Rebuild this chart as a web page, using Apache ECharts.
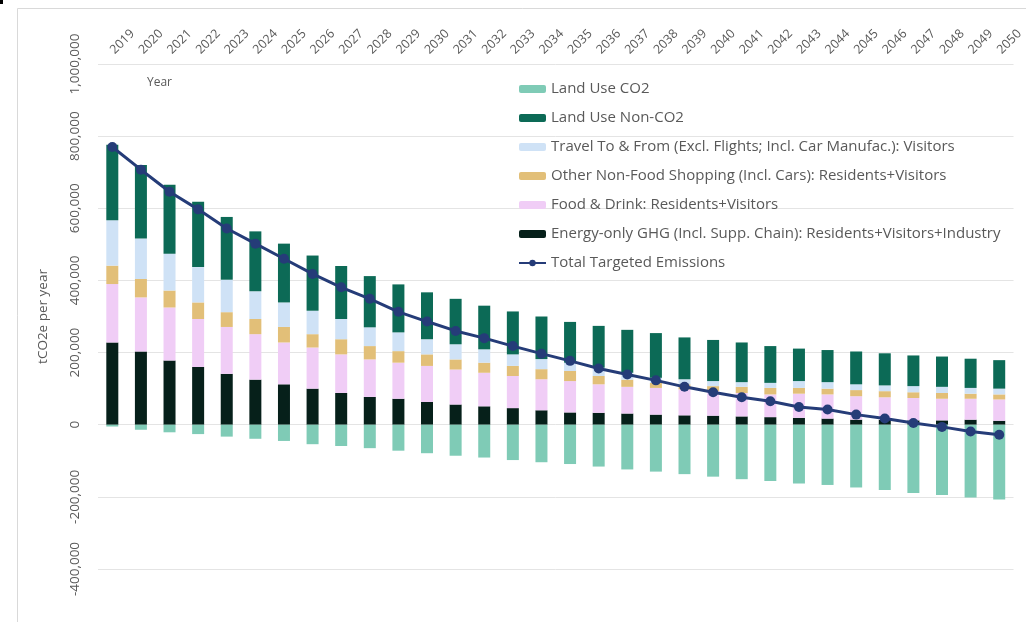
<!DOCTYPE html>
<html>
<head>
<meta charset="utf-8">
<script src="https://cdn.jsdelivr.net/npm/echarts@6/dist/echarts.min.js"></script>
<style>
  html, body { margin: 0; padding: 0; background: #ffffff; }
  #chart { width: 1026px; height: 622px; }
</style>
</head>
<body>
<div id="chart"></div>
<script>
const years = ['2019','2020','2021','2022','2023','2024','2025','2026','2027','2028','2029','2030','2031','2032','2033','2034','2035','2036','2037','2038','2039','2040','2041','2042','2043','2044','2045','2046','2047','2048','2049','2050'];

const energyGHG = [228000,203000,178000,160000,141000,125000,112000,100000,88000,77000,72000,63000,56000,51000,46000,40000,34000,33000,31000,28000,26000,25000,23000,21000,19000,17000,14000,14000,12000,12000,14000,11000];
const foodDrink = [162000,150000,147000,133000,130000,126000,116000,114000,107000,104000,100000,100000,97000,93000,89000,86000,87000,79000,74000,74000,72000,68000,65000,63000,67000,67000,65000,62000,62000,60000,58000,59000];
const otherShopping = [51000,51000,47000,46000,41000,42000,43000,37000,42000,37000,32000,32000,28000,28000,28000,28000,28000,23000,20000,14000,14000,14000,17000,18000,16000,16000,17000,17000,16000,16000,14000,14000];
const travelVisitors = [126000,112000,102000,98000,90000,77000,68000,65000,56000,52000,52000,42000,42000,37000,32000,28000,23000,23000,19000,14000,14000,14000,13000,14000,19000,18000,16000,16000,17000,17000,16000,16000];
const landUseNonCO2 = [209000,204000,191000,181000,174000,166000,163000,153000,147000,142000,133000,130000,126000,121000,119000,118000,113000,116000,119000,124000,116000,114000,110000,102000,90000,89000,91000,89000,85000,84000,81000,79000];
const landUseCO2 = [-5000,-14000,-21000,-26000,-33000,-39000,-45000,-54000,-59000,-65000,-72000,-79000,-86000,-91000,-98000,-104000,-109000,-116000,-124000,-130000,-137000,-144000,-151000,-156000,-163000,-167000,-174000,-181000,-189000,-195000,-202000,-207000];
const totalTargeted = [770000,707000,646000,597000,544000,502000,460000,418000,381000,349000,313000,286000,260000,240000,218000,197000,177000,156000,139000,123000,105000,90000,76000,65000,49000,42000,28000,17000,5000,-6000,-19000,-28000];

const seriesNames = {
  landCO2: 'Land Use CO2',
  landNon: 'Land Use Non-CO2',
  travel: 'Travel To & From (Excl. Flights; Incl. Car Manufac.): Visitors',
  other: 'Other Non-Food Shopping (Incl. Cars): Residents+Visitors',
  food: 'Food & Drink: Residents+Visitors',
  energy: 'Energy-only GHG (Incl. Supp. Chain): Residents+Visitors+Industry',
  total: 'Total Targeted Emissions'
};

const font = 'Open Sans, Liberation Sans, sans-serif';
const txt = '#595959';

function bar(name, data, color) {
  return { name, type: 'bar', stack: 'all', data, barWidth: 12,
    itemStyle: { color }, emphasis: { disabled: true } };
}

const chart = echarts.init(document.getElementById('chart'), null, { renderer: 'canvas' });
chart.setOption({
  animation: false,
  backgroundColor: '#ffffff',
  textStyle: { fontFamily: font },
  grid: { left: 98, right: 3, top: 64, bottom: 53, containLabel: false },
  legend: {
    orient: 'vertical', left: 518, top: 81, padding: 0,
    itemWidth: 27, itemHeight: 8, itemGap: 13,
    textStyle: { color: txt, fontSize: 15, lineHeight: 16, fontFamily: font, padding: [0, 0, 0, 0] },
    data: [seriesNames.landCO2, seriesNames.landNon, seriesNames.travel, seriesNames.other, seriesNames.food, seriesNames.energy, seriesNames.total]
  },
  xAxis: {
    type: 'category', position: 'top', data: years,
    axisLine: { show: false }, axisTick: { show: false },
    axisLabel: { rotate: 45, color: txt, fontSize: 12.5, margin: 12, interval: 0, fontFamily: font }
  },
  yAxis: {
    type: 'value', min: -400000, max: 1000000, interval: 200000,
    name: 'tCO2e per year', nameLocation: 'middle', nameGap: 48,
    nameTextStyle: { color: txt, fontSize: 13.5, fontFamily: font },
    axisLine: { show: false }, axisTick: { show: false },
    splitLine: { lineStyle: { color: '#e4e4e4', width: 1 } },
    axisLabel: { rotate: 90, color: txt, fontSize: 13.5, margin: 16, fontFamily: font,
      formatter: v => v.toLocaleString('en-US') }
  },
  graphic: [
    { type: 'rect', shape: { x: 17.5, y: 8.5, width: 1030, height: 640 }, style: { fill: 'none', stroke: '#d9d9d9', lineWidth: 1 }, silent: true, z: -1 },
    { type: 'rect', shape: { x: 0, y: 0, width: 3, height: 4 }, style: { fill: '#000000' }, silent: true },
    { type: 'text', left: 147, top: 77, style: { text: 'Year', fill: txt, fontSize: 12, fontFamily: font } }
  ],
  series: [
    bar(seriesNames.energy, energyGHG, '#06201a'),
    bar(seriesNames.food, foodDrink, '#f0cdf6'),
    bar(seriesNames.other, otherShopping, '#e2bf78'),
    bar(seriesNames.travel, travelVisitors, '#cfe2f6'),
    bar(seriesNames.landNon, landUseNonCO2, '#0c6a56'),
    bar(seriesNames.landCO2, landUseCO2, '#7fcbb6'),
    { name: seriesNames.total, type: 'line', data: totalTargeted, z: 5,
      symbol: 'circle', symbolSize: 10,
      lineStyle: { color: '#253c78', width: 3 },
      itemStyle: { color: '#253c78' }, emphasis: { disabled: true } }
  ]
});
</script>
</body>
</html>
